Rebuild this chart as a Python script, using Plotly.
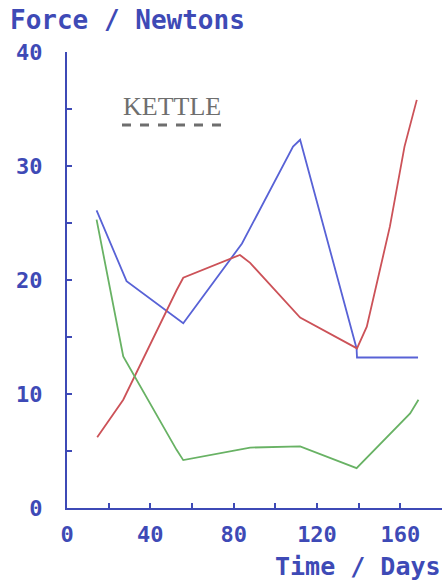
import plotly.graph_objects as go

# ---- data ----
blue_x = [14.2, 28.6, 55.8, 80.6, 84.0, 108.5, 111.9, 139.0, 139.2, 168.5]
blue_y = [26.1, 19.9, 16.2, 22.4, 23.2, 31.7, 32.3, 14.0, 13.2, 13.2]

red_x = [14.5, 27.0, 52.6, 55.8, 83.0, 87.9, 111.9, 139.2, 143.9, 155.0, 162.0, 167.9]
red_y = [6.2, 9.5, 19.1, 20.2, 22.2, 21.5, 16.7, 14.0, 15.9, 24.7, 31.7, 35.8]

green_x = [14.2, 27.0, 52.6, 55.8, 87.9, 111.9, 139.0, 164.7, 168.7]
green_y = [25.3, 13.3, 5.1, 4.2, 5.3, 5.4, 3.5, 8.3, 9.5]

x_tickvals = [0, 40, 80, 120, 160]
x_ticktext = ["0", "40", "80", "120", "160"]
y_tickvals = [0, 10, 20, 30, 40]
y_ticktext = ["0", "10", "20", "30", "40"]

y_title = "Force / Newtons"
x_title = "Time / Days"
label = "KETTLE"

# ---- styling ----
INK = "rgb(62,74,182)"
GREY = "rgb(110,110,110)"
FONT = "DejaVu Sans Mono"
W, H = 445, 584
L, R, T, B = 67, 3, 52, 76
pw, ph = W - L - R, H - T - B


def px(xp):
    return (xp - L) / pw


def py(yp):
    return (H - B - yp) / ph


fig = go.Figure()
fig.add_trace(go.Scatter(x=blue_x, y=blue_y, mode="lines",
                         line=dict(color="rgb(88,98,214)", width=1.8)))
fig.add_trace(go.Scatter(x=red_x, y=red_y, mode="lines",
                         line=dict(color="rgb(204,82,88)", width=1.8)))
fig.add_trace(go.Scatter(x=green_x, y=green_y, mode="lines",
                         line=dict(color="rgb(104,178,100)", width=1.8)))

fig.update_layout(
    width=W, height=H,
    margin=dict(l=L, r=R, t=T, b=B, autoexpand=False),
    paper_bgcolor="white", plot_bgcolor="white",
    showlegend=False,
    font=dict(family=FONT, color=INK, size=21),
)
fig.update_xaxes(
    range=[0, 180], showgrid=False, zeroline=False, automargin=False,
    showline=True, linecolor=INK, linewidth=2,
    tickvals=x_tickvals, ticktext=x_ticktext,
    ticks="inside", ticklen=5, tickwidth=2, tickcolor=INK,
    ticklabelstandoff=6,
    minor=dict(dtick=20, tick0=0, ticks="inside", ticklen=5, tickwidth=2, tickcolor=INK),
    tickfont=dict(family=FONT, color=INK, size=22, weight="bold"),
)
fig.update_yaxes(
    range=[0, 40], showgrid=False, zeroline=False, automargin=False,
    showline=True, linecolor=INK, linewidth=2,
    tickvals=y_tickvals, ticktext=y_ticktext,
    ticks="inside", ticklen=5, tickwidth=2, tickcolor=INK,
    ticklabelstandoff=18,
    minor=dict(dtick=5, tick0=0, ticks="inside", ticklen=5, tickwidth=2, tickcolor=INK),
    tickfont=dict(family=FONT, color=INK, size=22, weight="bold"),
)

fig.add_annotation(text=y_title, xref="paper", yref="paper",
                   x=px(8), y=py(20), xanchor="left", yanchor="middle",
                   showarrow=False,
                   font=dict(family=FONT, color=INK, size=26, weight="bold"))
fig.add_annotation(text=x_title, xref="paper", yref="paper",
                   x=px(443), y=py(566), xanchor="right", yanchor="middle",
                   showarrow=False,
                   font=dict(family=FONT, color=INK, size=25, weight="bold"))
fig.add_annotation(text=label, xref="paper", yref="paper",
                   x=px(172), y=py(106), xanchor="center", yanchor="middle",
                   showarrow=False,
                   font=dict(family="Liberation Serif", color=GREY, size=26,
                             weight="normal"))
fig.add_shape(type="line", xref="paper", yref="paper",
              x0=px(122), x1=px(222), y0=py(125), y1=py(125),
              line=dict(color=GREY, width=3, dash="dash"))

fig.write_html(
    "out.html",
    config={"displayModeBar": False},
    post_script="document.body.style.margin='0';document.body.style.overflow='hidden';",
)
